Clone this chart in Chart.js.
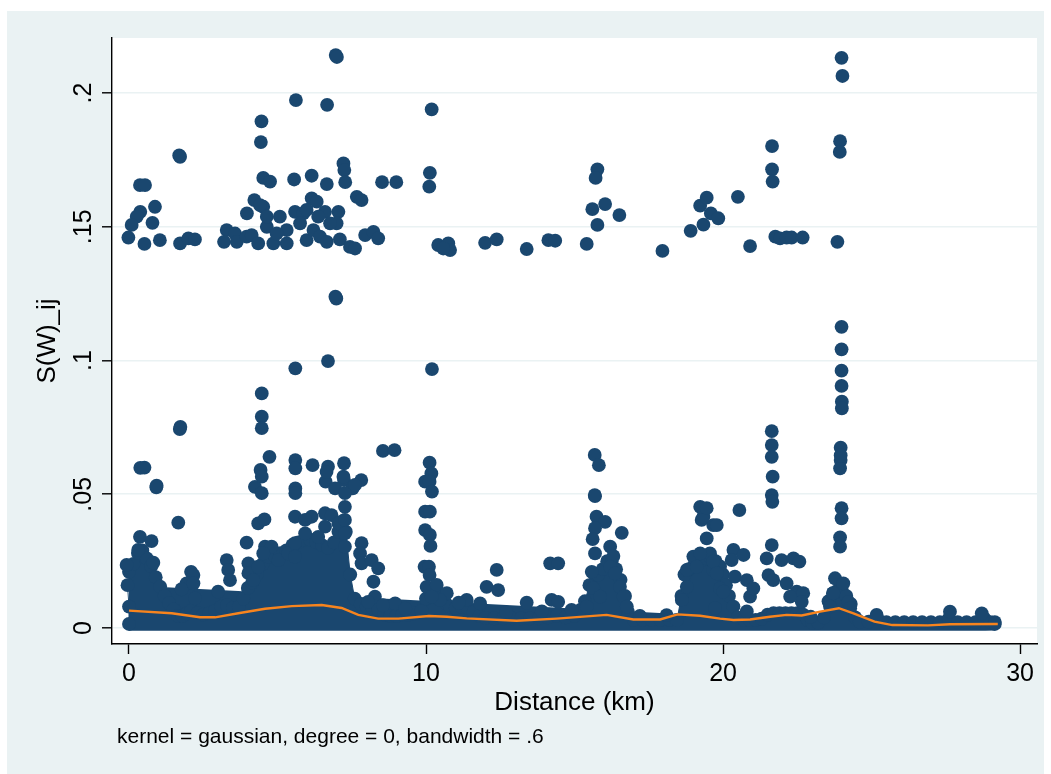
<!DOCTYPE html>
<html>
<head>
<meta charset="utf-8">
<script src="https://cdn.jsdelivr.net/npm/chart.js@4/dist/chart.umd.min.js"></script>
<style>
html,body{margin:0;padding:0;background:#fff;}
canvas{display:block;}
</style>
</head>
<body>
<canvas id="c" width="1051" height="774"></canvas>
<script>
// ---- data ----
const xTickValues = [0, 10, 20, 30];
const xTickLabels = ["0", "10", "20", "30"];
const yTickValues = [0, 0.05, 0.1, 0.15, 0.2];
const yTickLabels = ["0", ".05", ".1", ".15", ".2"];

// upper band of S(W)_ij values (x km, y)
const highPoints = [
  [6.96,.2142],[7.0,.2135],[5.62,.1974],[6.67,.1956],[10.19,.1939],[4.46,.1894],[4.44,.1817],
  [1.69,.1767],[1.72,.1762],[7.22,.1737],[7.25,.1712],[10.13,.1702],[10.11,.165],[0.37,.1656],
  [0.54,.1656],[4.52,.1683],[4.75,.1669],[5.56,.1677],[6.15,.1691],[6.66,.166],[7.28,.1667],
  [8.52,.1667],[9.0,.1667],[0.875,.1575],[0.38,.1556],[0.26,.1538],[0.09,.1507],[0.79,.1515],
  [-0.02,.146],[0.52,.1436],[1.04,.145],[1.72,.1438],[2.0,.1457],[2.22,.1453],[3.29,.1488],
  [3.57,.1475],[3.2,.1444],[3.63,.1444],[3.96,.1463],[4.13,.1469],[3.97,.155],[4.22,.16],
  [4.52,.1575],[4.35,.1438],[4.86,.1438],[5.31,.1438],[4.64,.150],[5.08,.1538],[5.59,.1556],
  [5.87,.155],[6.15,.1606],[6.32,.1594],[6.6,.1556],[7.05,.1556],[6.99,.1513],[5.76,.1513],
  [5.98,.145],[6.21,.1488],[6.43,.1463],[6.66,.1444],[5.31,.1488],[7.1,.1453],[7.44,.1425],
  [7.61,.1419],[7.67,.1612],[7.83,.16],[7.95,.1469],[8.23,.1481],[8.39,.1457],[10.41,.1432],
  [10.75,.1438],[10.81,.1413],[10.58,.1419],[11.99,.144],[12.38,.1453],[13.39,.1417],[14.12,.145],
  [14.35,.1448],[15.41,.1436],[15.77,.1715],[15.71,.1683],[15.6,.1566],[16.03,.1585],[16.51,.1544],
  [15.77,.1507],[17.96,.141],[18.91,.1485],[19.34,.1508],[19.23,.1579],[19.45,.1609],[19.59,.155],
  [19.84,.1532],[20.5,.1612],[20.91,.1428],[21.65,.1802],[21.65,.1715],[21.67,.1669],[21.76,.1463],
  [21.92,.1457],[22.14,.146],[22.31,.146],[22.68,.146],[23.85,.1444],[23.99,.2132],[24.02,.2064],
  [23.94,.182],[23.93,.178],[5.98,.1563],[6.37,.1538],[6.77,.1513],[4.41,.1581],[4.64,.1538],[4.97,.1475]
];

// middle values
const midPoints = [
  [6.95,.1239],[6.98,.1232],[23.99,.1126],[23.99,.1042],[23.99,.0962],[23.99,.0905],[24.0,.0846],
  [24.0,.0821],[6.7,.0998],[5.6,.0971],[10.2,.0968],[4.47,.0877],[4.47,.079],[4.47,.0747],
  [1.71,.0744],[1.73,.0752],[21.64,.0736],[21.64,.0684],[21.64,.064],[21.67,.0566],[21.64,.0497],
  [21.66,.0472],[23.96,.0674],[23.96,.0628],[23.94,.0597],[23.96,.0645],[0.38,.0599],[0.52,.06],
  [0.92,.0526],[0.93,.0532],[4.73,.064],[4.43,.0591],[4.24,.0528],[4.47,.0504],[5.6,.0628],
  [5.6,.0597],[5.6,.0522],[5.6,.0504],[6.18,.0609],[6.7,.0603],[6.62,.0547],[6.65,.0584],
  [7.24,.0616],[7.24,.0553],[7.82,.0553],[7.53,.0522],[8.55,.0662],[8.94,.0665],[10.12,.0618],
  [10.18,.0578],[10.12,.0547],[10.2,.051],[15.68,.0647],[15.82,.0609],[15.68,.0497],[4.47,.0566],
  [7.22,.0566],[6.94,.0522],[7.27,.0504],[7.61,.0535],[23.99,.0448],[23.99,.041],[23.94,.0339],
  [23.94,.0304],[20.55,.0441],[19.23,.0453],[19.45,.0448],[10.13,.0435]
];

// lower scattered values
const lowPoints = [
  [1.66,.0394],[.37,.0341],[.76,.0325],[.31,.0292],[.82,.0244],[-.08,.0236],[2.09,.021],[2.17,.0198],
  [1.94,.0167],[1.77,.0145],[2.17,.0167],[2.22,.0111],[3.29,.0254],[3.34,.0217],[3.4,.0179],[3.0,.0136],
  [3.96,.0319],[4.02,.0242],[4.02,.0205],[4.19,.0179],[4.35,.0391],[4.56,.0406],[4.58,.0304],[4.8,.0304],
  [4.52,.0279],[4.35,.0229],[5.03,.0254],[5.36,.0279],[5.59,.0317],[5.59,.0267],[5.93,.0354],[6.15,.0416],
  [5.59,.0416],[6.6,.0429],[6.82,.0422],[6.6,.0379],[7.05,.0391],[7.27,.0453],[7.27,.0404],[7.27,.0354],
  [7.27,.0304],[6.37,.0341],[5.93,.0404],[7.83,.0317],[7.78,.0279],[7.83,.0242],[8.17,.0254],[8.39,.0223],
  [8.23,.0173],[8.28,.0117],[8.96,.0092],[9.97,.0547],[9.97,.0435],[9.97,.0366],[9.95,.0229],[10.13,.0348],
  [10.15,.0307],[10.1,.0229],[10.12,.0198],[10.02,.0154],[10.36,.0161],[10.7,.013],[10.47,.0105],[10.19,.0117],
  [11.37,.0105],[11.82,.0092],[12.04,.0154],[12.38,.0217],[12.43,.0142],[13.39,.0095],[14.18,.0242],[14.45,.0242],
  [14.23,.0105],[14.45,.0098],[15.69,.0493],[15.74,.0416],[16.03,.0397],[15.69,.0373],[15.61,.0332],[16.59,.0356],
  [15.69,.0279],[16.2,.0304],[16.31,.0269],[16.2,.0229],[16.36,.0204],[15.58,.021],[15.63,.0149],[16.53,.0154],
  [16.65,.0117],[16.76,.008],[15.41,.008],[15.86,.0117],[18.78,.0217],[18.78,.0154],[18.61,.0105],[19.0,.0267],
  [19.28,.0404],[19.67,.0385],[19.45,.0335],[19.56,.0279],[19.11,.0229],[19.67,.0217],[19.73,.0074],[19.34,.0416],
  [19.79,.0385],[19.23,.0279],[19.67,.0248],[19.79,.0204],[19.9,.0148],[20.01,.0136],[20.35,.0292],[20.69,.0273],
  [20.29,.0254],[20.4,.0192],[21.64,.031],[21.47,.026],[21.97,.0254],[22.37,.026],[22.57,.0248],[21.53,.0198],
  [21.69,.0179],[22.14,.0167],[22.48,.0136],[22.7,.013],[22.65,.0098],[20.91,.0117],[20.8,.0179],[21.02,.0148],
  [22.26,.0117],[23.77,.0186],[24.05,.0167],[23.71,.013],[24.22,.0098],[24.28,.0074],[23.6,.008],[25.17,.0049],
  [27.64,.0061],[28.71,.0055],[8.05,.0098],[8.55,.0085],[9.3,.0072],[11.1,.0095],[12.7,.0058],[13.9,.0062],
  [14.9,.0068],[17.2,.0045],[18.1,.0048],[20.8,.0062],[22.95,.0042]
];

// outline of the dense mass of overlapping markers near zero (x km, top y)
const massEnvelope = [
  [0,.0015],[0,.008],[-0.05,.016],[0,.021],[.15,.024],[.3,.028],[.45,.029],[.6,.026],[.75,.023],[.9,.019],
  [1.05,.0155],[1.2,.012],[1.35,.0093],[1.5,.007],[1.65,.0045],[1.8,.0045],[1.95,.0055],[2.1,.0065],[2.3,.0056],
  [2.5,.005],[2.7,.0056],[2.9,.0065],[3.1,.008],[3.3,.0085],[3.5,.0075],[3.7,.008],[3.85,.011],[4.0,.015],
  [4.15,.017],[4.3,.02],[4.5,.024],[4.7,.0267],[4.9,.027],[5.1,.028],[5.3,.029],[5.5,.031],[5.7,.032],[5.9,.033],
  [6.1,.033],[6.3,.032],[6.5,.031],[6.7,.03],[6.9,.032],[7.05,.036],[7.2,.04],[7.3,.036],[7.45,.02],[7.6,.011],
  [7.8,.009],[8.0,.008],[8.2,.0075],[8.4,.007],[8.6,.005],[8.8,.0045],[9.0,.0045],[9.2,.005],[9.4,.005],
  [9.6,.0055],[9.85,.0065],[10.0,.011],[10.15,.0138],[10.3,.013],[10.5,.012],[10.65,.0095],[10.8,.008],
  [11.0,.0075],[11.2,.008],[11.4,.0075],[11.6,.006],[11.8,.0045],[12.0,.0038],[12.3,.0036],[12.6,.0036],
  [12.9,.0036],[13.2,.0036],[13.5,.0036],[13.8,.0036],[14.1,.004],[14.4,.0045],[14.7,.004],[15.0,.0045],
  [15.2,.0068],[15.35,.01],[15.5,.016],[15.65,.0204],[15.8,.02],[15.95,.022],[16.1,.025],[16.25,.025],
  [16.4,.022],[16.55,.018],[16.7,.012],[16.8,.006],[17.0,.003],[17.3,.003],[17.6,.003],[17.9,.003],[18.2,.003],
  [18.45,.003],[18.6,.012],[18.7,.02],[18.85,.022],[19.0,.023],[19.15,.025],[19.3,.0254],[19.45,.026],
  [19.6,.026],[19.75,.025],[19.9,.023],[20.0,.02],[20.1,.016],[20.2,.012],[20.35,.008],[20.5,.004],
  [20.7,.003],[20.9,.003],[21.1,.003],[21.3,.0035],[21.5,.005],[21.7,.0056],[21.9,.0056],[22.1,.0056],
  [22.3,.0056],[22.5,.0056],[22.7,.005],[22.85,.003],[23.0,.002],[23.2,.002],[23.4,.004],[23.55,.01],
  [23.7,.013],[23.85,.014],[24.0,.014],[24.15,.012],[24.3,.009],[24.45,.004],[24.6,.0024],[24.9,.0024],
  [25.2,.0035],[25.5,.0022],[25.8,.0022],[26.1,.0022],[26.4,.0022],[26.7,.0022],[27.0,.0022],[27.3,.0022],
  [27.6,.0035],[27.9,.0022],[28.2,.0022],[28.5,.0022],[28.8,.0035],[29.0,.0022],[29.15,.0022],[29.15,.0015]
];

// kernel-weighted local polynomial smooth (gaussian, degree 0, bw .6)
const fitX = [0,1.44,2.39,2.9,3.68,4.58,5.48,6.49,7.16,7.72,8.39,9.07,10.1,10.7,11.37,13.05,14.4,16.08,16.98,
  17.88,18.47,19.23,19.9,20.35,20.91,21.58,22.14,22.65,23.27,23.9,24.39,25.1,25.7,26.9,27.64,29.25];
const fitY = [.0065,.0055,.004,.004,.0055,.0072,.0082,.0086,.0075,.0049,.0035,.0035,.0045,.0042,.0036,.0027,
  .0035,.0049,.0032,.0032,.0051,.0046,.0035,.003,.0032,.0042,.0049,.0047,.0061,.0074,.0055,.0024,.0011,.001,.0014,.0015];

const noteText = "kernel = gaussian, degree = 0, bandwidth = .6";
const xTitle = "Distance (km)";
const yTitle = "S(W)_ij";

// ---- styling ----
const NAVY = '#1a476f';
const ORANGE = '#f7841e';
const BG = '#eaf2f3';
const FONT = '"Liberation Sans", Arial, Helvetica, sans-serif';
const toXY = arr => arr.map(p => ({x: p[0], y: p[1]}));

const bgPlugin = {
  id: 'stataBg',
  beforeDraw(chart) {
    const {ctx, chartArea: a} = chart;
    ctx.save();
    ctx.fillStyle = '#ffffff';
    ctx.fillRect(0, 0, chart.width, chart.height);
    ctx.fillStyle = BG;
    ctx.fillRect(7, 11, 1037, 763);
    ctx.fillStyle = '#ffffff';
    ctx.fillRect(a.left, a.top, a.right - a.left, a.bottom - a.top);
    ctx.restore();
  },
  afterDraw(chart) {
    const {ctx} = chart;
    ctx.save();
    ctx.fillStyle = '#000';
    ctx.font = '21px ' + FONT;
    ctx.textBaseline = 'alphabetic';
    ctx.textAlign = 'left';
    ctx.fillText(noteText, 117, 743);
    ctx.restore();
  }
};

new Chart(document.getElementById('c'), {
  type: 'scatter',
  data: {
    datasets: [
      {
        type: 'line', label: 'fit', data: fitX.map((x, i) => ({x, y: fitY[i]})),
        borderColor: ORANGE, borderWidth: 2.4, pointRadius: 0, fill: false, tension: 0, order: 0
      },
      {
        label: 'high', data: toXY(highPoints), backgroundColor: NAVY, borderColor: NAVY,
        borderWidth: 0, pointRadius: 6.9, order: 1
      },
      {
        label: 'mid', data: toXY(midPoints), backgroundColor: NAVY, borderColor: NAVY,
        borderWidth: 0, pointRadius: 6.9, order: 1
      },
      {
        label: 'low', data: toXY(lowPoints), backgroundColor: NAVY, borderColor: NAVY,
        borderWidth: 0, pointRadius: 6.9, order: 1
      },
      {
        type: 'line', label: 'mass', data: toXY(massEnvelope),
        backgroundColor: NAVY, borderColor: NAVY, borderWidth: 1, tension: 0,
        pointRadius: 6.9, pointBackgroundColor: NAVY, pointBorderWidth: 0,
        fill: {value: -0.0009}, order: 2
      }
    ]
  },
  options: {
    responsive: false,
    animation: false,
    devicePixelRatio: 1,
    events: [],
    layout: {padding: {left: 7, right: 14, top: 38, bottom: 0}},
    plugins: {legend: {display: false}, tooltip: {enabled: false}, title: {display: false}},
    scales: {
      x: {
        type: 'linear', position: 'bottom', min: -0.572, max: 30.57,
        afterFit(s) { s.height = 130; },
        afterBuildTicks(s) { s.ticks = xTickValues.map(v => ({value: v})); },
        ticks: {
          color: '#000', font: {family: FONT, size: 25}, padding: 5,
          maxRotation: 0, minRotation: 0,
          callback: (v) => xTickLabels[xTickValues.indexOf(v)]
        },
        grid: {drawOnChartArea: false, drawTicks: true, tickLength: 10, tickColor: '#000', tickWidth: 1.4},
        border: {display: true, color: '#000', width: 1.4},
        title: {display: true, text: xTitle, color: '#000', font: {family: FONT, size: 26}, padding: {top: 0, bottom: 56}}
      },
      y: {
        type: 'linear', position: 'left', min: -0.00598, max: 0.2206,
        afterFit(s) { s.width = 105; },
        afterBuildTicks(s) { s.ticks = yTickValues.map(v => ({value: v})); },
        ticks: {
          color: '#000', font: {family: FONT, size: 25}, padding: 1,
          minRotation: 90, maxRotation: 90, crossAlign: 'center',
          callback: (v) => yTickLabels[yTickValues.indexOf(v)]
        },
        grid: {color: BG, lineWidth: 1.6, drawTicks: true, tickLength: 10, tickColor: '#000', tickWidth: 1.4},
        border: {display: true, color: '#000', width: 1.4},
        title: {display: true, text: yTitle, color: '#000', font: {family: FONT, size: 26}, padding: {top: 25, bottom: 0}}
      }
    }
  },
  plugins: [bgPlugin]
});
</script>
</body>
</html>
